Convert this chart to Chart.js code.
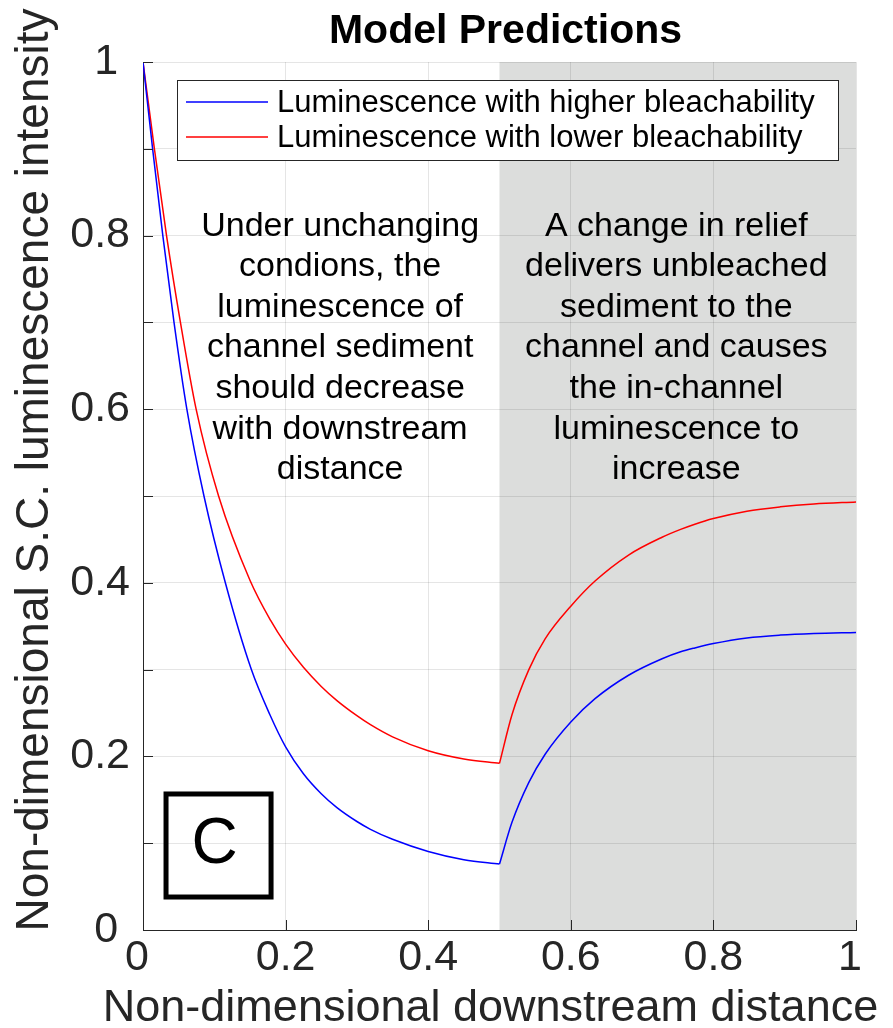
<!DOCTYPE html>
<html>
<head>
<meta charset="utf-8">
<script src="https://cdn.jsdelivr.net/npm/chart.js@4"></script>
<style>
  body { margin: 0; background: #fff; }
</style>
</head>
<body>
<canvas id="myChart" width="893" height="1028"></canvas>
<script>
// values
const blueFallX = [0, 0.0135, 0.0278, 0.0435, 0.0615, 0.0855, 0.1155, 0.152, 0.178, 0.2, 0.225, 0.25, 0.272, 0.3, 0.319, 0.35, 0.4, 0.45, 0.5];
const blueFallY = [1.0, 0.9, 0.8, 0.7, 0.6, 0.5, 0.4, 0.3, 0.248, 0.211, 0.18, 0.157, 0.141, 0.125, 0.116, 0.1045, 0.0905, 0.081, 0.076];
const redFallX = [0, 0.016, 0.033, 0.0525, 0.0745, 0.106, 0.15, 0.179, 0.2, 0.225, 0.25, 0.272, 0.3, 0.319, 0.35, 0.4, 0.45, 0.5];
const redFallY = [1.0, 0.9, 0.8, 0.7, 0.6, 0.5, 0.403, 0.3566, 0.3293, 0.3026, 0.2806, 0.2643, 0.2469, 0.2365, 0.2225, 0.2065, 0.197, 0.192];
const riseX = [0.5, 0.5175, 0.541, 0.564, 0.6, 0.634, 0.681, 0.728, 0.754, 0.774, 0.8, 0.847, 0.894, 0.941, 1.0];
const blueRiseY = [0.076, 0.124, 0.1698, 0.2025, 0.2396, 0.2665, 0.2935, 0.3125, 0.3205, 0.325, 0.33, 0.3365, 0.3398, 0.3416, 0.3428];
const redRiseY = [0.192, 0.248, 0.2997, 0.3354, 0.373, 0.402, 0.432, 0.4525, 0.4615, 0.4675, 0.474, 0.4825, 0.4875, 0.4908, 0.4932];

const seriesLabels = ["Luminescence with higher bleachability", "Luminescence with lower bleachability"];
const seriesColors = ["#0000ff", "#ff0000"];
const changeAt = 0.5; // start of grey "relief change" zone

const leftNote = ["Under unchanging", "condions, the", "luminescence of", "channel sediment", "should decrease", "with downstream", "distance"];
const rightNote = ["A change in relief", "delivers unbleached", "sediment to the", "channel and causes", "the in-channel", "luminescence to", "increase"];

const FONT = "'Liberation Sans', Arial, Helvetica, sans-serif";
const INK = "#262626";

function pts(xs, ys) {
    return xs.map((x, i) => ({ x: x, y: ys[i] }));
}

function lineSet(label, color, data) {
    return {
        label: label,
        data: data,
        borderColor: color,
        backgroundColor: color,
        borderWidth: 1.5,
        pointRadius: 0,
        fill: false,
        cubicInterpolationMode: "monotone"
    };
}

const decor = {
    id: "decor",
    beforeDraw(chart) {
        const { ctx, chartArea, scales } = chart;
        // grey zone, under the grid
        const x0 = scales.x.getPixelForValue(changeAt);
        const x1 = scales.x.getPixelForValue(1);
        ctx.save();
        ctx.fillStyle = "#dcdddc";
        ctx.fillRect(x0, chartArea.top, x1 - x0, chartArea.bottom - chartArea.top);
        ctx.restore();
    },
    afterDraw(chart) {
        const { ctx, chartArea, scales } = chart;
        const xs = scales.x, ys = scales.y;
        ctx.save();

        // inward tick marks
        ctx.strokeStyle = INK;
        ctx.lineWidth = 1;
        ctx.beginPath();
        ys.ticks.forEach(t => {
            const py = Math.round(ys.getPixelForValue(t.value)) + 0.5;
            ctx.moveTo(chartArea.left, py);
            ctx.lineTo(chartArea.left + 10, py);
        });
        xs.ticks.forEach(t => {
            const px = Math.round(xs.getPixelForValue(t.value)) + 0.5;
            ctx.moveTo(px, chartArea.bottom);
            ctx.lineTo(px, chartArea.bottom - 10);
        });
        ctx.stroke();

        // title over the axes
        ctx.fillStyle = "#000";
        ctx.font = "bold 41px " + FONT;
        ctx.textAlign = "center";
        ctx.textBaseline = "alphabetic";
        ctx.fillText("Model Predictions", (chartArea.left + chartArea.right) / 2 + 6, 43);

        // axis titles
        ctx.fillStyle = INK;
        ctx.font = "45px " + FONT;
        ctx.fillText("Non-dimensional downstream distance", (chartArea.left + chartArea.right) / 2 - 9, 1021);
        ctx.save();
        ctx.translate(35, 470);
        ctx.rotate(-Math.PI / 2);
        ctx.font = "46px " + FONT;
        ctx.textBaseline = "middle";
        ctx.fillText("Non-dimensional S.C. luminescence intensity", 0, 0);
        ctx.restore();

        // notes
        ctx.fillStyle = "#000";
        ctx.font = "34px " + FONT;
        ctx.textBaseline = "alphabetic";
        const base = ys.getPixelForValue(0.8);
        leftNote.forEach((s, i) => ctx.fillText(s, xs.getPixelForValue(0.2765), base + i * 40.6));
        rightNote.forEach((s, i) => ctx.fillText(s, xs.getPixelForValue(0.748), base + i * 40.6));

        // panel letter
        const bx0 = xs.getPixelForValue(0.0323), bx1 = xs.getPixelForValue(0.1796);
        const by0 = ys.getPixelForValue(0.1567), by1 = ys.getPixelForValue(0.038);
        ctx.lineWidth = 5;
        ctx.strokeStyle = "#000";
        ctx.strokeRect(bx0, by0, bx1 - bx0, by1 - by0);
        ctx.font = "64px " + FONT;
        ctx.textBaseline = "middle";
        ctx.fillText("C", (bx0 + bx1) / 2 - 4, (by0 + by1) / 2);

        // legend box
        const lx = chartArea.left + 34, ly = chartArea.top + 18;
        ctx.fillStyle = "#fff";
        ctx.fillRect(lx, ly, 661, 80);
        ctx.lineWidth = 1;
        ctx.strokeStyle = INK;
        ctx.strokeRect(lx + 0.5, ly + 0.5, 661, 80);
        ctx.font = "31px " + FONT;
        ctx.textAlign = "left";
        ctx.textBaseline = "middle";
        chart.data.datasets.slice(0, 2).forEach((d, i) => {
            const y = ly + 22 + i * 35;
            ctx.strokeStyle = d.borderColor;
            ctx.lineWidth = 1.5;
            ctx.beginPath();
            ctx.moveTo(lx + 9, y);
            ctx.lineTo(lx + 91, y);
            ctx.stroke();
            ctx.fillStyle = "#000";
            ctx.fillText(d.label, lx + 100, y + 1);
        });

        ctx.restore();
    }
};

const ctx = document.getElementById("myChart").getContext("2d");
const myChart = new Chart(ctx, {
    type: "line",
    data: {
        datasets: [
            lineSet(seriesLabels[0], seriesColors[0], pts(blueFallX, blueFallY)),
            lineSet(seriesLabels[1], seriesColors[1], pts(redFallX, redFallY)),
            lineSet(seriesLabels[0], seriesColors[0], pts(riseX, blueRiseY)),
            lineSet(seriesLabels[1], seriesColors[1], pts(riseX, redRiseY))
        ]
    },
    options: {
        responsive: false,
        animation: false,
        layout: { padding: { top: 62, right: 37, bottom: 0, left: 0 } },
        plugins: {
            legend: { display: false },
            tooltip: { enabled: false },
            title: { display: false }
        },
        scales: {
            x: {
                type: "linear",
                min: 0,
                max: 1,
                afterFit: s => { s.height = 98; },
                ticks: {
                    stepSize: 0.2,
                    color: INK,
                    padding: 2,
                    maxRotation: 0,
                    font: { family: FONT, size: 43 },
                    callback: v => {
                        const r = Math.round(v * 10) / 10;
                        return (r === 0 || r === 1) ? r + " " : String(r);
                    }
                },
                grid: { color: "rgba(38,38,38,0.12)", drawTicks: false },
                border: { color: INK, width: 1 }
            },
            y: {
                type: "linear",
                min: 0,
                max: 1,
                afterFit: s => { s.width = 143; },
                ticks: {
                    stepSize: 0.1,
                    color: INK,
                    padding: 13,
                    font: { family: FONT, size: 43 },
                    callback: v => {
                        const k = Math.round(v * 10);
                        if (k % 2 !== 0) return "";
                        return (k === 0 || k === 10) ? (k / 10) + " " : String(k / 10);
                    }
                },
                grid: { color: "rgba(38,38,38,0.12)", drawTicks: false },
                border: { color: INK, width: 1 }
            }
        }
    },
    plugins: [decor]
});
</script>
</body>
</html>
